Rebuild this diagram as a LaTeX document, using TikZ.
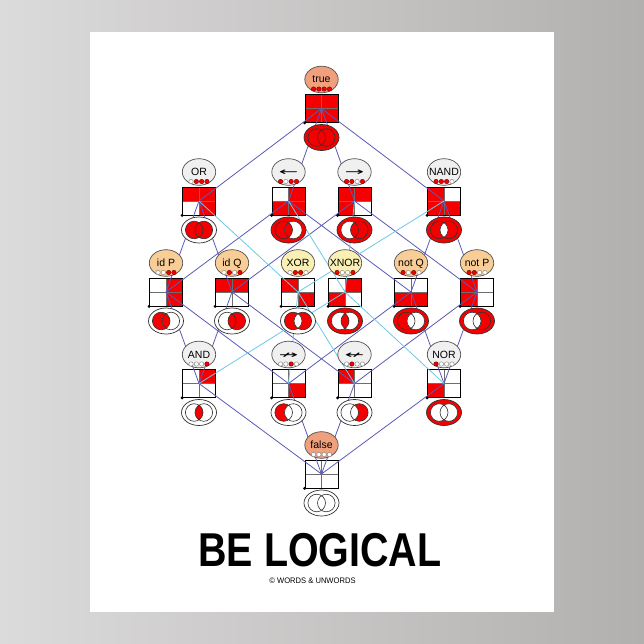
\documentclass[tikz,border=0pt]{standalone}
\usepackage{fontspec}
\setmainfont{Liberation Sans}
\newfontfamily\symf{DejaVu Sans}
\usepackage{graphicx}
\usetikzlibrary{shapes.geometric}
\definecolor{rd}{RGB}{245,0,0}
\definecolor{eblue}{RGB}{90,90,185}
\definecolor{ecyan}{RGB}{110,200,230}
\definecolor{salm}{RGB}{240,160,125}
\definecolor{lgr}{RGB}{240,240,240}
\definecolor{peach}{RGB}{248,205,150}
\definecolor{pyel}{RGB}{250,240,180}
\definecolor{bgl}{RGB}{220,219,219}
\definecolor{bgr}{RGB}{178,176,175}
\definecolor{gridc}{RGB}{110,110,110}
\definecolor{lblc}{RGB}{80,80,80}
\definecolor{vennc}{RGB}{50,50,50}
\tikzset{
 sqbox/.style={draw=black, line width=0.8pt, minimum width=33pt, minimum height=28pt, inner sep=0pt},
 gridln/.style={draw=gridc, line width=0.6pt},
 lblbox/.style={ellipse, draw=lblc, line width=0.7pt, minimum width=33.4pt, minimum height=26.6pt, inner sep=0pt},
 lbltext/.style={font=\fontsize{10.5}{12}\selectfont, inner sep=0pt, anchor=base},
 vennbox/.style={ellipse, draw=vennc, line width=0.7pt, minimum width=35pt, minimum height=26pt, inner sep=0pt},
 vennln/.style={draw=vennc, line width=0.6pt},
 eb/.style={draw=eblue, line width=0.8pt},
 ec/.style={draw=ecyan, line width=0.8pt},
}
% square: name,x,y, FF,FT,TF,TT  (TL=FT, TR=TT, BL=FF, BR=TF)
\newcommand\SqNode[7]{%
 \begin{scope}[shift={(#2,#3)}]
  \fill[#5] (-16.5,-14) rectangle (0,0);
  \fill[#7] (0,-14) rectangle (16.5,0);
  \fill[#4] (-16.5,0) rectangle (0,14);
  \fill[#6] (0,0) rectangle (16.5,14);
  \draw[gridln] (-16.5,0) -- (16.5,0) (0,-14) -- (0,14);
 \end{scope}
 \node[sqbox] (#1) at (#2,#3) {};
 \fill (#1.south west) circle (1.6pt);
}
% label: name,x,y(square),text,fill, FF,FT,TF,TT
\newcommand\LabNode[9]{%
 \node[lblbox, fill=#5] (#1l) at (#2,#3-29) {};
 \node[lbltext] (#1t) at (#2,#3-25.5) {#4};
 \foreach \c [count=\i] in {#6,#7,#8,#9} {
  \filldraw[fill=\c, draw=\c!55!black, line width=0.5pt] ({#2+(\i-2.5)*5.3},{#3-19.5}) circle (2.2pt);
 }
}
% venn: name,x,y(square), FF,FT,TF,TT (left circle = P)
\newcommand\VennNode[7]{%
 \node[vennbox, fill=#4] (#1v) at (#2,#3+29) {};
 \begin{scope}[shift={(#2,#3+29)}]
  \fill[#6] (-4.8,0) circle (8.8pt);
  \fill[#5] (4.8,0) circle (8.8pt);
  \begin{scope}
   \clip (-4.8,0) circle (8.8pt);
   \fill[#7] (4.8,0) circle (8.8pt);
  \end{scope}
  \draw[vennln] (-4.8,0) circle (8.8pt) (4.8,0) circle (8.8pt);
 \end{scope}
}
\begin{document}
\begin{tikzpicture}[x=1pt,y=-1pt]
\useasboundingbox (0,0) rectangle (644,644);
\shade[left color=bgl, right color=bgr] (0,0) rectangle (644,644);
\fill[white] (90,32) rectangle (553.5,612);
% squares
\SqNode{tru}{321.5}{108.5}{rd}{rd}{rd}{rd}
\SqNode{or}{199}{201}{white}{rd}{rd}{rd}
\SqNode{lar}{288.5}{201}{rd}{white}{rd}{rd}
\SqNode{rar}{354.5}{201}{rd}{rd}{white}{rd}
\SqNode{nand}{444}{201}{rd}{rd}{rd}{white}
\SqNode{idp}{166}{292}{white}{white}{rd}{rd}
\SqNode{idq}{232}{292}{white}{rd}{white}{rd}
\SqNode{xor}{298}{292}{white}{rd}{rd}{white}
\SqNode{xnor}{345}{292}{rd}{white}{white}{rd}
\SqNode{notq}{411}{292}{rd}{white}{rd}{white}
\SqNode{notp}{477}{292}{rd}{rd}{white}{white}
\SqNode{and}{199}{383.5}{white}{white}{white}{rd}
\SqNode{nim}{288.5}{383.5}{white}{white}{rd}{white}
\SqNode{cnim}{354.5}{383.5}{white}{rd}{white}{white}
\SqNode{nor}{444}{383.5}{rd}{white}{white}{white}
\SqNode{fls}{321.5}{474}{white}{white}{white}{white}
% edges
\draw[eb] (tru.center) -- (or.center) (tru.center) -- (lar.center)
          (tru.center) -- (rar.center) (tru.center) -- (nand.center);
\draw[eb] (or.center) -- (idp.center) (or.center) -- (idq.center)
          (lar.center) -- (idp.center) (lar.center) -- (notq.center)
          (rar.center) -- (idq.center) (rar.center) -- (notp.center)
          (nand.center) -- (notq.center) (nand.center) -- (notp.center);
\draw[eb] (and.center) -- (idp.center) (and.center) -- (idq.center)
          (nim.center) -- (idp.center) (nim.center) -- (notq.center)
          (cnim.center) -- (idq.center) (cnim.center) -- (notp.center)
          (nor.center) -- (notq.center) (nor.center) -- (notp.center);
\draw[eb] (fls.center) -- (and.center) (fls.center) -- (nim.center)
          (fls.center) -- (cnim.center) (fls.center) -- (nor.center);
\draw[ec] (or.center) -- (xor.center) (nand.center) -- (xor.center)
          (lar.center) -- (xnor.center) (rar.center) -- (xnor.center)
          (xor.center) -- (nim.center) (xor.center) -- (cnim.center)
          (xnor.center) -- (and.center) (xnor.center) -- (nor.center);
% labels
\LabNode{tru}{321.5}{108.5}{true}{salm}{rd}{rd}{rd}{rd}
\LabNode{or}{199}{201}{OR}{lgr}{white}{rd}{rd}{rd}
\LabNode{lar}{288.5}{201}{{\symf\scalebox{2.2}[1]{←}}}{lgr}{rd}{white}{rd}{rd}
\LabNode{rar}{354.5}{201}{{\symf\scalebox{2.2}[1]{→}}}{lgr}{rd}{rd}{white}{rd}
\LabNode{nand}{444}{201}{NAND}{lgr}{rd}{rd}{rd}{white}
\LabNode{idp}{166}{292}{id P}{peach}{white}{white}{rd}{rd}
\LabNode{idq}{232}{292}{id Q}{peach}{white}{rd}{white}{rd}
\LabNode{xor}{298}{292}{XOR}{pyel}{white}{rd}{rd}{white}
\LabNode{xnor}{345}{292}{XNOR}{pyel}{rd}{white}{white}{rd}
\LabNode{notq}{411}{292}{not Q}{peach}{rd}{white}{rd}{white}
\LabNode{notp}{477}{292}{not P}{peach}{rd}{rd}{white}{white}
\LabNode{and}{199}{383.5}{AND}{lgr}{white}{white}{white}{rd}
\LabNode{nim}{288.5}{383.5}{{\symf\scalebox{2.2}[1]{↛}}}{lgr}{white}{white}{rd}{white}
\LabNode{cnim}{354.5}{383.5}{{\symf\scalebox{2.2}[1]{↚}}}{lgr}{white}{rd}{white}{white}
\LabNode{nor}{444}{383.5}{NOR}{lgr}{rd}{white}{white}{white}
\LabNode{fls}{321.5}{474}{false}{salm}{white}{white}{white}{white}
% venns
\VennNode{tru}{321.5}{108.5}{rd}{rd}{rd}{rd}
\VennNode{or}{199}{201}{white}{rd}{rd}{rd}
\VennNode{lar}{288.5}{201}{rd}{white}{rd}{rd}
\VennNode{rar}{354.5}{201}{rd}{rd}{white}{rd}
\VennNode{nand}{444}{201}{rd}{rd}{rd}{white}
\VennNode{idp}{166}{292}{white}{white}{rd}{rd}
\VennNode{idq}{232}{292}{white}{rd}{white}{rd}
\VennNode{xor}{298}{292}{white}{rd}{rd}{white}
\VennNode{xnor}{345}{292}{rd}{white}{white}{rd}
\VennNode{notq}{411}{292}{rd}{white}{rd}{white}
\VennNode{notp}{477}{292}{rd}{rd}{white}{white}
\VennNode{and}{199}{383.5}{white}{white}{white}{rd}
\VennNode{nim}{288.5}{383.5}{white}{white}{rd}{white}
\VennNode{cnim}{354.5}{383.5}{white}{rd}{white}{white}
\VennNode{nor}{444}{383.5}{rd}{white}{white}{white}
\VennNode{fls}{321.5}{474}{white}{white}{white}{white}
% title
\node[font=\fontsize{47.5}{50}\selectfont\bfseries, inner sep=0pt] (title) at (320,550) {\scalebox{0.83}[1]{BE LOGICAL}};
\node[font=\fontsize{8}{9}\selectfont, inner sep=0pt] (copy) at (312.5,580.5) {\scalebox{0.95}[1]{© WORDS \& UNWORDS}};
\end{tikzpicture}
\end{document}
